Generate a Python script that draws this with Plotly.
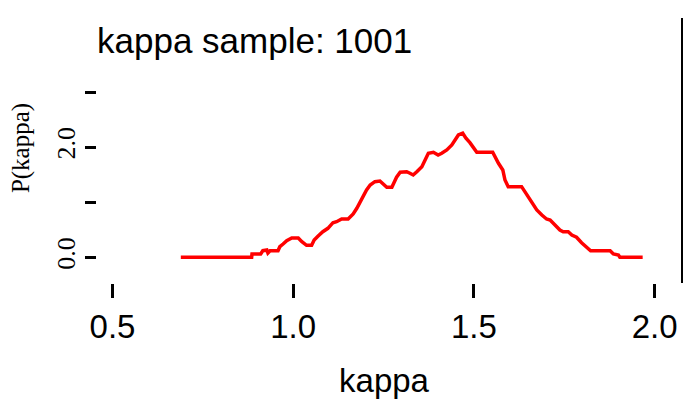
import plotly.graph_objects as go

# Posterior density estimate for kappa (step-like trace)
kappa = [0.689, 0.885, 0.886, 0.910, 0.916, 0.927, 0.930, 0.936, 0.958, 0.963,
         0.972, 0.982, 0.996, 1.014, 1.024, 1.037, 1.051, 1.058, 1.069, 1.082,
         1.096, 1.110, 1.120, 1.134, 1.152, 1.166, 1.176, 1.185, 1.194, 1.203,
         1.213, 1.226, 1.240, 1.249, 1.259, 1.273, 1.279, 1.286, 1.296, 1.314,
         1.323, 1.332, 1.342, 1.356, 1.365, 1.374, 1.388, 1.401, 1.411, 1.425,
         1.439, 1.448, 1.457, 1.469, 1.478, 1.489, 1.498, 1.508, 1.552, 1.558,
         1.568, 1.580, 1.586, 1.595, 1.632, 1.641, 1.651, 1.664, 1.674, 1.688,
         1.701, 1.711, 1.724, 1.738, 1.747, 1.761, 1.771, 1.784, 1.798, 1.812,
         1.823, 1.877, 1.886, 1.900, 1.904, 1.967]
density = [0.000, 0.000, 0.060, 0.060, 0.120, 0.133, 0.078, 0.120, 0.120, 0.193,
           0.242, 0.302, 0.351, 0.351, 0.284, 0.218, 0.218, 0.315, 0.387, 0.465,
           0.527, 0.629, 0.647, 0.696, 0.696, 0.787, 0.891, 1.011, 1.133, 1.224,
           1.315, 1.375, 1.387, 1.327, 1.273, 1.273, 1.356, 1.455, 1.545, 1.556,
           1.527, 1.496, 1.556, 1.647, 1.769, 1.891, 1.909, 1.860, 1.891, 1.951,
           2.042, 2.133, 2.224, 2.255, 2.164, 2.084, 2.011, 1.909, 1.909, 1.829,
           1.709, 1.587, 1.405, 1.284, 1.284, 1.193, 1.091, 0.982, 0.860, 0.769,
           0.696, 0.678, 0.587, 0.496, 0.465, 0.465, 0.405, 0.364, 0.265, 0.182,
           0.120, 0.120, 0.060, 0.042, 0.000, 0.000]

x_ticks = [0.5, 1.0, 1.5, 2.0]
x_tick_labels = ["0.5", "1.0", "1.5", "2.0"]
y_ticks = [0, 1, 2, 3]
y_tick_labels = ["0.0", "", "2.0", ""]

SANS = "Liberation Sans, Arial, sans-serif"
SERIF = "Liberation Serif, Times New Roman, serif"

fig = go.Figure()
fig.add_trace(go.Scatter(
    x=kappa, y=density, mode="lines",
    line=dict(color="#ff0000", width=3.5),
    showlegend=False, hoverinfo="skip",
))

fig.update_layout(
    width=684, height=401,
    margin=dict(l=97, r=13, t=13, b=118, autoexpand=False),
    paper_bgcolor="white", plot_bgcolor="white",
    title=dict(
        text="kappa sample: 1001",
        font=dict(family=SANS, size=35, color="black"),
        xref="container", x=97 / 684, xanchor="left",
        yref="container", y=1 - 41 / 401, yanchor="middle",
    ),
    xaxis=dict(
        range=[0.4571, 2.0454], automargin=False,
        tickvals=x_ticks, ticktext=x_tick_labels,
        ticks="outside", ticklen=14, tickwidth=3, tickcolor="black",
        showline=False, showgrid=False, zeroline=False,
        tickfont=dict(family=SANS, size=33, color="black"),
        title=dict(text="kappa", font=dict(family=SANS, size=33, color="black"),
                   standoff=25),
    ),
    yaxis=dict(
        range=[-0.467, 4.44], automargin=False,
        tickvals=y_ticks, ticktext=y_tick_labels,
        ticks="outside", ticklen=11, tickwidth=3, tickcolor="black",
        tickangle=-90,
        showline=False, showgrid=False, zeroline=False,
        tickfont=dict(family=SERIF, size=26, color="black"),
        title=dict(text="P(kappa)", font=dict(family=SERIF, size=25, color="black"),
                   standoff=14),
    ),
    shapes=[dict(
        type="line", xref="paper", yref="paper",
        x0=(682 - 97) / (671 - 97), x1=(682 - 97) / (671 - 97),
        y0=0, y1=(283 - 18) / 270,
        line=dict(color="black", width=2),
    )],
)

fig.write_html("out.html")
